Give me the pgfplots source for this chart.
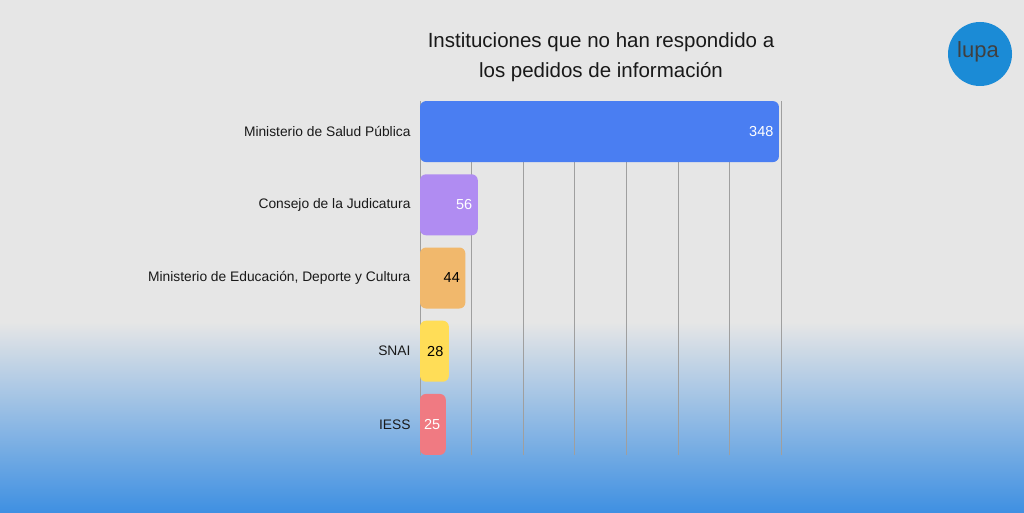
\documentclass[border=0pt]{standalone}
\usepackage{pgfplots}
\pgfplotsset{compat=1.18}
\usepackage{fontspec}
\setmainfont{Liberation Sans}
\definecolor{bggray}{HTML}{E6E6E6}
\definecolor{bgmid}{HTML}{A9C6EA}
\definecolor{bgblue}{HTML}{3F90E2}
\definecolor{cA}{HTML}{4A7EF2}
\definecolor{cB}{HTML}{B08CF2}
\definecolor{cC}{HTML}{F1B86C}
\definecolor{cD}{HTML}{FFDD57}
\definecolor{cE}{HTML}{F07A82}
\definecolor{logoblue}{HTML}{1B8BD6}
\begin{document}
\begin{tikzpicture}[x=1pt,y=1pt]
\fill[bggray] (0,0) rectangle (1024,512);
\shade[top color=bggray, middle color=bgmid, bottom color=bgblue] (0,0) rectangle (1024,190);
\node[font=\fontsize{20.5}{30}\selectfont, align=center, text=black!90] at (601,455) {Instituciones que no han respondido a\\los pedidos de información};
\fill[logoblue] (980,458) circle (32);
\node[font=\fontsize{22}{22}\selectfont, text=black!75] at (978,460) {lupa};
\begin{axis}[
  at={(420pt,57pt)}, anchor=south west,
  scale only axis, width=361pt, height=354pt,
  xmin=0, xmax=350, ymin=-0.418, ymax=4.418,
  axis line style={draw=none},
  /pgf/number format/assume math mode=true,
  xtick={0,50,...,350}, xticklabels={},
  xmajorgrids, grid style={gray!75, line width=0.6pt},
  major tick length=0pt,
  ytick={0,1,2,3,4},
  yticklabels={IESS, SNAI, {Ministerio de Educación, Deporte y Cultura}, Consejo de la Judicatura, Ministerio de Salud Pública},
  yticklabel style={font=\fontsize{13.8}{13.8}\selectfont, text=black!90, xshift=-6pt},
  every axis plot/.append style={xbar, bar width=61pt, bar shift=0pt, draw=none, point meta=x,
     nodes near coords, nodes near coords style={anchor=east, xshift=-2pt, font=\fontsize{14.5}{14.5}\selectfont}},
]
\addplot[fill=cA, rounded corners=6pt, nodes near coords style={text=white}] coordinates {(348,4)};
\addplot[fill=cB, rounded corners=6pt, nodes near coords style={text=white}] coordinates {(56,3)};
\addplot[fill=cC, rounded corners=6pt, nodes near coords style={text=black}] coordinates {(44,2)};
\addplot[fill=cD, rounded corners=6pt, nodes near coords style={text=black}] coordinates {(28,1)};
\addplot[fill=cE, rounded corners=6pt, nodes near coords style={text=white}] coordinates {(25,0)};
\end{axis}
\end{tikzpicture}
\end{document}
